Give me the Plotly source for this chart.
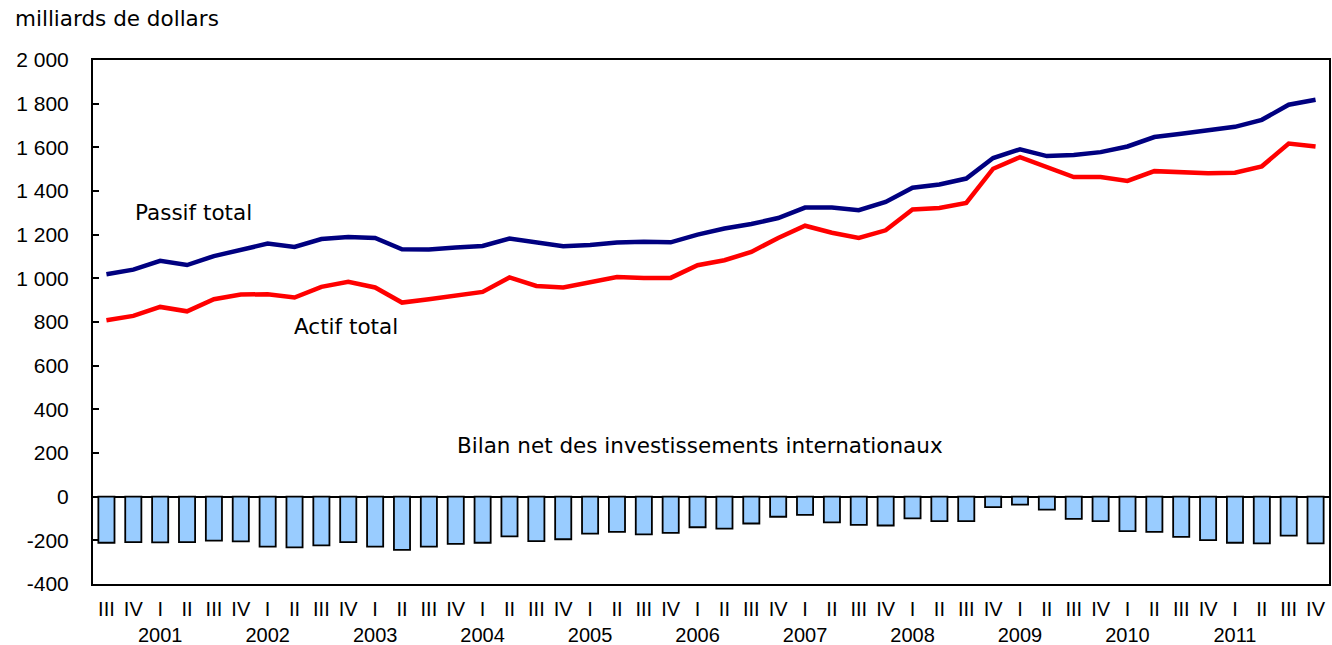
import plotly.graph_objects as go

quarters = ["III", "IV",
            "I", "II", "III", "IV", "I", "II", "III", "IV", "I", "II", "III", "IV",
            "I", "II", "III", "IV", "I", "II", "III", "IV", "I", "II", "III", "IV",
            "I", "II", "III", "IV", "I", "II", "III", "IV", "I", "II", "III", "IV",
            "I", "II", "III", "IV", "I", "II", "III", "IV"]
years = ["2001", "2002", "2003", "2004", "2005", "2006", "2007", "2008", "2009", "2010", "2011"]

passif_total = [1019, 1040, 1080, 1061, 1102, 1133, 1159, 1144, 1180, 1189, 1185, 1133, 1132, 1141, 1148,
                1182, 1164, 1147, 1153, 1164, 1168, 1165, 1200, 1228, 1249, 1276, 1324, 1324, 1312, 1350,
                1415, 1430, 1457, 1551, 1591, 1560, 1565, 1578, 1604, 1647, 1662, 1677, 1694, 1726, 1795, 1818]
actif_total = [808, 828, 869, 849, 904, 926, 927, 912, 961, 984, 958, 889, 904, 923, 938,
               1004, 965, 958, 984, 1006, 1002, 1002, 1060, 1083, 1121, 1185, 1241, 1209, 1185, 1220,
               1315, 1322, 1345, 1502, 1555, 1507, 1464, 1464, 1446, 1491, 1484, 1481, 1484, 1513, 1617, 1604]
bilan_net = [-211, -208, -209, -208, -201, -205, -229, -232, -223, -208, -229, -244, -229, -216, -211, -182,
             -204, -195, -169, -161, -173, -166, -140, -146, -123, -92, -83, -118, -129, -132, -99, -112,
             -112, -48, -36, -59, -102, -112, -158, -161, -184, -199, -211, -214, -178, -214]

y_tickvals = [-400, -200, 0, 200, 400, 600, 800, 1000, 1200, 1400, 1600, 1800, 2000]
y_ticktext = ["-400", "-200", "0", "200", "400", "600", "800",
              "1 000", "1 200", "1 400", "1 600", "1 800", "2 000"]

idx = list(range(len(quarters)))

# Build x tick labels: year shown under the first quarter (I) of each year
ticktext = []
yi = 0
for q in quarters:
    if q == "I" and yi < len(years):
        ticktext.append(q + "<br>" + years[yi])
        yi += 1
    else:
        ticktext.append(q)

fig = go.Figure()
fig.add_trace(go.Bar(x=idx, y=bilan_net, width=0.6,
                     marker=dict(color="#99CCFF", line=dict(color="black", width=1.8))))
fig.add_trace(go.Scatter(x=idx, y=passif_total, mode="lines",
                         line=dict(color="#000080", width=4.5)))
fig.add_trace(go.Scatter(x=idx, y=actif_total, mode="lines",
                         line=dict(color="#FF0000", width=4.5)))

label_font = dict(family="DejaVu Sans", size=21.5, color="black")
fig.add_annotation(x=1.0, y=1302, xref="x", yref="y", text="Passif total", showarrow=False,
                   xanchor="left", yanchor="middle", font=label_font)
fig.add_annotation(x=6.9, y=781, xref="x", yref="y", text="Actif total", showarrow=False,
                   xanchor="left", yanchor="middle", font=label_font)
fig.add_annotation(x=22.1, y=236, xref="x", yref="y", text="Bilan net des investissements internationaux",
                   showarrow=False, xanchor="center", yanchor="middle", font=label_font)
fig.add_annotation(x=-0.0647, y=1.079, xref="paper", yref="paper", text="milliards de dollars",
                   showarrow=False, xanchor="left", yanchor="middle", font=label_font)

fig.update_layout(
    width=1332, height=645,
    margin=dict(l=93, r=3, t=60, b=61, autoexpand=False),
    plot_bgcolor="white", paper_bgcolor="white",
    showlegend=False,
    bargap=0.4,
    xaxis=dict(range=[-0.5, len(quarters) - 0.5], tickmode="array", tickvals=idx, ticktext=ticktext,
               ticks="", showline=True, mirror=True, linecolor="black", linewidth=2,
               showgrid=False, zeroline=False, tickangle=0, automargin=False,
               tickfont=dict(family="Liberation Sans", size=20, color="black"),
               ticklabelstandoff=6),
    yaxis=dict(range=[-400, 2000], tickmode="array", tickvals=y_tickvals, ticktext=y_ticktext,
               ticks="inside", ticklen=6, tickwidth=2, tickcolor="black",
               showline=True, mirror=True, linecolor="black", linewidth=2,
               showgrid=False, zeroline=True, zerolinecolor="black", zerolinewidth=2,
               automargin=False,
               tickfont=dict(family="Liberation Sans", size=21, color="black"),
               ticklabelstandoff=18),
)

fig.write_html("out.html", config={"displayModeBar": False},
               post_script="document.body.style.margin='0';document.body.style.overflow='hidden';")
